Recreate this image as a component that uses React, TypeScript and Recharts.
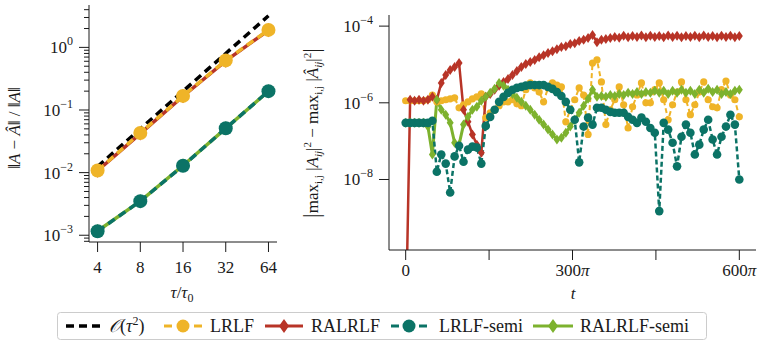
import React from 'react';
import { LineChart, Line, XAxis, YAxis } from 'recharts';

const SERIF = '"Liberation Serif", "Times New Roman", "DejaVu Serif", serif';
const INK = '#1a1a1a';

const YELLOW = '#EFB428';
const RED = '#B83427';
const TEAL = '#0B7366';
const GREEN = '#7DB22E';

// left panel: relative error against tau / tau0
const tauRatios = [4, 8, 16, 32, 64];
const orderRef = [0.0125, 0.05, 0.2, 0.8, 3.2];
const errLRLF = [0.0108, 0.043, 0.168, 0.62, 1.9];
const errRALRLF = [0.0107, 0.042, 0.166, 0.61, 1.88];
const errLRLFsemi = [0.00116, 0.0035, 0.0129, 0.051, 0.2];
const errRALRLFsemi = [0.00117, 0.0035, 0.013, 0.051, 0.2];

const leftMajor = [0.001, 0.01, 0.1, 1];
const leftMinorMult = [2, 3, 4, 5, 6, 7, 8, 9];

// right panel: time in units of pi
const tPi = [
  0, 8, 16, 24, 32, 40, 48, 56, 64, 72, 80, 88, 96, 104, 112, 120, 128, 136, 144, 152,
  160, 168, 176, 184, 192, 200, 208, 216, 224, 232, 240, 248, 256, 264, 272, 280, 288, 296, 304, 312,
  320, 328, 336, 344, 352, 360, 368, 376, 384, 392, 400, 408, 416, 424, 432, 440, 448, 456, 464, 472,
  480, 488, 496, 504, 512, 520, 528, 536, 544, 552, 560, 568, 576, 584, 592, 600,
];

const diffLRLF = [
  1.13e-6, 1.13e-6, 1.13e-6, 1.13e-6, 1.13e-6, 1.2e-6, 1.6e-6, 1.06e-6, 1.13e-6, 1.2e-6,
  1.27e-6, 1.35e-6, 7.4e-7, 8.9e-7, 1.06e-6, 1.27e-6, 1.43e-6, 1.7e-6, 4.1e-7, 5.5e-7,
  6.6e-7, 8.4e-7, 1.06e-6, 1.06e-6, 1.2e-6, 9.4e-7, 8.4e-7, 2.2e-6, 3.3e-6, 2.45e-6,
  1.9e-6, 1.06e-6, 2.45e-6, 3.3e-6, 2.9e-6, 2.6e-6, 3.2e-7, 6.6e-7, 1.2e-6, 2.45e-6,
  1.6e-6, 1.5e-7, 1.09e-5, 1.31e-5, 3.5e-6, 2.7e-7, 6.6e-7, 1.2e-6, 2.6e-6, 8.9e-7,
  2.2e-7, 7.9e-7, 1.6e-6, 3.3e-6, 1.0e-6, 1.0e-6, 2.2e-6, 3.3e-6, 1.2e-6, 3.6e-7,
  8.9e-7, 1.9e-6, 3.5e-6, 1.2e-6, 4.9e-7, 8.9e-7, 1.9e-6, 3.5e-6, 1.2e-6, 7.9e-7,
  7.4e-7, 2.2e-6, 3.7e-6, 1.6e-6, 1.2e-6, 4.3e-7,
];

const diffRALRLF = [
  1e-12, 1.2e-6, 1.13e-6, 1.2e-6, 1.13e-6, 1.2e-6, 1.43e-6, 1.2e-6, 3.3e-6, 5.3e-6,
  7.2e-6, 8.6e-6, 1.09e-5, 6.6e-7, 3.2e-7, 1.5e-7, 8.1e-8, 5.0e-8, 1.43e-6, 1.7e-6,
  2.2e-6, 2.8e-6, 3.5e-6, 4.2e-6, 5.3e-6, 6.8e-6, 8.6e-6, 1.03e-5, 1.16e-5, 1.31e-5,
  1.55e-5, 1.75e-5, 2.0e-5, 2.2e-5, 2.5e-5, 2.85e-5, 3.0e-5, 3.4e-5, 3.6e-5, 4.1e-5,
  4.4e-5, 4.9e-5, 5.9e-5, 3.8e-5, 4.4e-5, 4.6e-5, 4.9e-5, 5.2e-5, 5.0e-5, 5.6e-5,
  5.1e-5, 5.5e-5, 5.2e-5, 5.7e-5, 5.1e-5, 5.6e-5, 5.2e-5, 5.5e-5, 5.1e-5, 5.7e-5,
  5.2e-5, 5.6e-5, 5.1e-5, 5.5e-5, 5.2e-5, 5.6e-5, 5.1e-5, 5.7e-5, 5.2e-5, 5.5e-5,
  5.1e-5, 5.6e-5, 5.2e-5, 5.6e-5, 5.1e-5, 5.5e-5,
];

const diffLRLFsemi = [
  3.0e-7, 3.0e-7, 3.0e-7, 3.0e-7, 3.0e-7, 3.0e-7, 3.4e-7, 1.6e-8, 4.5e-8, 2.6e-8,
  4.6e-9, 4.0e-8, 7.6e-8, 2.9e-8, 6.0e-8, 7.2e-8, 6.8e-8, 2.6e-8, 2.5e-7, 4.3e-7,
  6.6e-7, 1.06e-6, 1.43e-6, 1.82e-6, 2.2e-6, 2.45e-6, 2.6e-6, 2.8e-6, 2.9e-6, 2.9e-6,
  2.9e-6, 2.9e-6, 2.6e-6, 2.31e-6, 1.9e-6, 1.5e-6, 1.06e-6, 6.6e-7, 3.6e-7, 2.8e-8,
  2.4e-7, 4.1e-7, 2.7e-7, 7.4e-7, 7.4e-7, 6.6e-7, 5.8e-7, 5.5e-7, 5.5e-7, 5.5e-7,
  4.3e-7, 3.6e-7, 3.0e-7, 4.1e-7, 3.2e-7, 2.2e-7, 1.66e-7, 1.5e-9, 3.0e-7, 2.0e-7,
  9.1e-8, 2.2e-8, 1.3e-7, 2.7e-7, 1.66e-7, 4.5e-8, 8.1e-8, 2.0e-7, 3.6e-7, 1.1e-7,
  4.5e-8, 1.3e-7, 2.4e-7, 4.9e-7, 2.7e-7, 1.0e-8,
];

const diffRALRLFsemi = [
  3.0e-7, 3.0e-7, 3.0e-7, 3.0e-7, 3.0e-7, 2.4e-7, 4.5e-8, 1.2e-6, 6.6e-7, 4.9e-7,
  3.0e-7, 9.1e-8, 8.1e-8, 2.7e-7, 4.3e-7, 6.6e-7, 7.9e-7, 1.13e-6, 1.43e-6, 1.82e-6,
  2.31e-6, 3.3e-6, 2.8e-6, 2.2e-6, 1.7e-6, 1.35e-6, 1.06e-6, 8.4e-7, 6.6e-7, 4.9e-7,
  3.6e-7, 2.7e-7, 2.0e-7, 1.5e-7, 1.1e-7, 1.23e-7, 1.66e-7, 2.4e-7, 3.6e-7, 5.5e-7,
  8.4e-7, 1.27e-6, 2.2e-6, 1.43e-6, 1.5e-6, 1.43e-6, 1.6e-6, 1.5e-6, 1.7e-6, 1.6e-6,
  1.82e-6, 1.7e-6, 1.9e-6, 1.7e-6, 1.9e-6, 1.82e-6, 2.05e-6, 1.82e-6, 2.05e-6, 1.7e-6,
  2.05e-6, 1.82e-6, 2.2e-6, 1.82e-6, 2.05e-6, 1.7e-6, 2.2e-6, 1.82e-6, 2.31e-6, 1.9e-6,
  2.2e-6, 1.7e-6, 1.9e-6, 1.7e-6, 2.05e-6, 2.2e-6,
];

const rightMajor = [1e-8, 1e-6, 1e-4];
const rightXTicks = [0, 150, 300, 450, 600];
const rightXLabels: Record<number, string> = { 0: '0', 300: '300π', 600: '600π' };

const leftData = tauRatios.map((tau, i) => ({
  tau,
  ref: orderRef[i],
  lrlf: errLRLF[i],
  ralrlf: errRALRLF[i],
  lrlfSemi: errLRLFsemi[i],
  ralrlfSemi: errRALRLFsemi[i],
}));

const rightData = tPi.map((t, i) => ({
  t,
  lrlf: diffLRLF[i],
  ralrlf: diffRALRLF[i],
  lrlfSemi: diffLRLFsemi[i],
  ralrlfSemi: diffRALRLFsemi[i],
}));

const leftTicks: number[] = [];
leftMajor.forEach((m) => {
  leftTicks.push(m);
  leftMinorMult.forEach((k) => {
    if (m * k < 4.75) leftTicks.push(m * k);
  });
});
leftTicks.push(0.0008, 0.0009);

const serifStyle = { fontFamily: SERIF };

function circleDot(color: string, r: number) {
  return (p: any) => {
    if (p.cx == null || p.cy == null || isNaN(p.cy)) return <g key={`c-${p.index}`} />;
    return <circle key={`c-${p.index}`} cx={p.cx} cy={p.cy} r={r} fill={color} />;
  };
}

function diamondDot(color: string, w: number, h: number) {
  return (p: any) => {
    if (p.cx == null || p.cy == null || isNaN(p.cy)) return <g key={`d-${p.index}`} />;
    const { cx, cy } = p;
    return (
      <path
        key={`d-${p.index}`}
        d={`M${cx},${cy - h}L${cx + w},${cy}L${cx},${cy + h}L${cx - w},${cy}Z`}
        fill={color}
      />
    );
  };
}

function LogYTick(props: any) {
  const { x, y, payload, majors } = props;
  const v = payload.value;
  const major = majors.some((m: number) => Math.abs(m - v) / m < 1e-6);
  const exp = Math.round(Math.log10(v));
  return (
    <g>
      <line x1={x - (major ? 10 : 5)} x2={x} y1={y} y2={y} stroke={INK} strokeWidth={1} />
      {major && (
        <text x={x - 16} y={y + 6} textAnchor="end" style={serifStyle} fontSize={17} fill={INK}>
          10
          <tspan dy={-8} fontSize={12}>
            {exp === 0 ? '0' : '−' + Math.abs(exp)}
          </tspan>
        </text>
      )}
    </g>
  );
}

function BottomTick(props: any) {
  const { x, y, payload, labels, offset } = props;
  const label: string | undefined = labels ? labels[payload.value] : String(payload.value);
  const hasPi = label && label.endsWith('π');
  return (
    <g>
      <line x1={x} x2={x} y1={y} y2={y + 10} stroke={INK} strokeWidth={1} />
      {label && (
        <text x={x} y={y + offset} textAnchor="middle" style={serifStyle} fontSize={17} fill={INK}>
          {hasPi ? label.slice(0, -1) : label}
          {hasPi && <tspan fontStyle="italic">π</tspan>}
        </text>
      )}
    </g>
  );
}

function LeftPanel() {
  return (
    <LineChart width={290} height={300} data={leftData} margin={{ top: 5, right: 13, left: 0, bottom: 0 }}>
      <XAxis
        dataKey="tau"
        type="number"
        scale="log"
        domain={[3.48, 73.5]}
        ticks={tauRatios}
        interval={0}
        height={58}
        tickSize={0}
        tickMargin={0}
        tickLine={false}
        axisLine={{ stroke: INK }}
        tick={<BottomTick offset={31} />}
      />
      <YAxis
        type="number"
        scale="log"
        domain={[7.8e-4, 4.75]}
        ticks={leftTicks}
        interval={0}
        width={89}
        tickSize={0}
        tickMargin={0}
        tickLine={false}
        axisLine={{ stroke: INK }}
        tick={<LogYTick majors={leftMajor} />}
      />
      <XAxis xAxisId="top" orientation="top" dataKey="tau" type="number" domain={[3.48, 73.5]} scale="log" height={0} tick={false} tickLine={false} axisLine={{ stroke: INK }} />
      <YAxis yAxisId="right" orientation="right" type="number" domain={[7.8e-4, 4.75]} scale="log" width={0} tick={false} tickLine={false} axisLine={{ stroke: INK }} />
      <Line dataKey="ref" stroke="#000" strokeWidth={3.5} strokeDasharray="8 5" dot={false} activeDot={false} isAnimationActive={false} />
      <Line dataKey="ralrlf" stroke={RED} strokeWidth={3.5} dot={diamondDot(RED, 5, 7)} activeDot={false} isAnimationActive={false} />
      <Line dataKey="lrlf" stroke={YELLOW} strokeWidth={3.5} strokeDasharray="8 5" dot={circleDot(YELLOW, 7)} activeDot={false} isAnimationActive={false} />
      <Line dataKey="ralrlfSemi" stroke={GREEN} strokeWidth={3.5} dot={diamondDot(GREEN, 5, 7)} activeDot={false} isAnimationActive={false} />
      <Line dataKey="lrlfSemi" stroke={TEAL} strokeWidth={3.5} strokeDasharray="8 5" dot={circleDot(TEAL, 7)} activeDot={false} isAnimationActive={false} />
    </LineChart>
  );
}

function RightPanel() {
  const yDomain = [1.45e-10, 1.95e-4];
  return (
    <LineChart width={460} height={300} data={rightData} margin={{ top: 15, right: 4, left: 0, bottom: 0 }}>
      <XAxis
        dataKey="t"
        type="number"
        domain={[-30, 630]}
        ticks={rightXTicks}
        interval={0}
        height={50}
        tickSize={0}
        tickMargin={0}
        tickLine={false}
        axisLine={{ stroke: INK }}
        tick={<BottomTick labels={rightXLabels} offset={26} />}
      />
      <YAxis
        type="number"
        scale="log"
        domain={yDomain}
        allowDataOverflow
        ticks={rightMajor}
        interval={0}
        width={89}
        tickSize={0}
        tickMargin={0}
        tickLine={false}
        axisLine={{ stroke: INK }}
        tick={<LogYTick majors={rightMajor} />}
      />
      <XAxis xAxisId="top" orientation="top" dataKey="t" type="number" domain={[-30, 630]} height={0} tick={false} tickLine={false} axisLine={{ stroke: INK }} />
      <YAxis yAxisId="right" orientation="right" type="number" domain={yDomain} scale="log" width={0} tick={false} tickLine={false} axisLine={{ stroke: INK }} />
      <Line dataKey="lrlf" stroke={YELLOW} strokeWidth={2} strokeDasharray="5 3" dot={circleDot(YELLOW, 3.6)} activeDot={false} isAnimationActive={false} />
      <Line dataKey="ralrlf" stroke={RED} strokeWidth={2.5} dot={diamondDot(RED, 3.5, 5)} activeDot={false} isAnimationActive={false} />
      <Line dataKey="ralrlfSemi" stroke={GREEN} strokeWidth={3} dot={diamondDot(GREEN, 3.5, 5)} activeDot={false} isAnimationActive={false} />
      <Line dataKey="lrlfSemi" stroke={TEAL} strokeWidth={2.5} strokeDasharray="5 3" dot={circleDot(TEAL, 4.3)} activeDot={false} isAnimationActive={false} />
    </LineChart>
  );
}

function Overlay() {
  const sub = { fontSize: 11 };
  return (
    <svg width={760} height={349} style={{ position: 'absolute', left: 0, top: 0, pointerEvents: 'none', fontFamily: SERIF }}>
      {/* left y label */}
      <text transform="translate(20,128) rotate(-90)" textAnchor="middle" style={serifStyle} fontSize={17} fill={INK}>
        ‖<tspan fontStyle="italic">A</tspan> − <tspan fontStyle="italic">Â</tspan>‖ / ‖<tspan fontStyle="italic">A</tspan>‖
      </text>
      {/* right y label */}
      <text transform="translate(318,133) rotate(-90)" textAnchor="middle" style={serifStyle} fontSize={17} fill={INK}>
        <tspan fontSize={23} dy={1}>|</tspan>
        <tspan dy={-1}>max</tspan>
        <tspan dy={4} {...sub}>i,j</tspan>
        <tspan dy={-4}> |</tspan>
        <tspan fontStyle="italic">A</tspan>
        <tspan dy={4} {...sub} fontStyle="italic">ij</tspan>
        <tspan dy={-4}>|</tspan>
        <tspan dy={-7} {...sub}>2</tspan>
        <tspan dy={7}> − max</tspan>
        <tspan dy={4} {...sub}>i,j</tspan>
        <tspan dy={-4}> |</tspan>
        <tspan fontStyle="italic">Â</tspan>
        <tspan dy={4} {...sub} fontStyle="italic">ij</tspan>
        <tspan dy={-4}>|</tspan>
        <tspan dy={-7} {...sub}>2</tspan>
        <tspan dy={8} fontSize={23}>|</tspan>
      </text>
      {/* x labels */}
      <text x={182} y={298} textAnchor="middle" style={serifStyle} fontSize={17} fill={INK}>
        <tspan fontStyle="italic">τ</tspan>/<tspan fontStyle="italic">τ</tspan>
        <tspan dy={4} fontSize={12}>0</tspan>
      </text>
      <text x={573} y={299} textAnchor="middle" style={serifStyle} fontSize={17} fontStyle="italic" fill={INK}>
        t
      </text>
      {/* legend */}
      <rect x={57.5} y={312.5} width={649} height={27} rx={3} fill="#fff" stroke="#cccccc" />
      <line x1={66} x2={100} y1={326} y2={326} stroke="#000" strokeWidth={3.5} strokeDasharray="8 5" />
      <text x={109} y={332} style={serifStyle} fontSize={18} fill={INK}>
        <tspan style={{ fontFamily: '"DejaVu Sans", "Noto Sans", serif' }} fontStyle="italic">𝒪</tspan>(<tspan fontStyle="italic">τ</tspan>
        <tspan dy={-7} fontSize={12}>2</tspan>
        <tspan dy={7}>)</tspan>
      </text>
      <line x1={164} x2={172} y1={326} y2={326} stroke={YELLOW} strokeWidth={3} />
      <line x1={194} x2={202} y1={326} y2={326} stroke={YELLOW} strokeWidth={3} />
      <circle cx={183} cy={326} r={6.5} fill={YELLOW} />
      <text x={210} y={332} style={serifStyle} fontSize={18} fill={INK}>LRLF</text>
      <line x1={265} x2={303} y1={326} y2={326} stroke={RED} strokeWidth={3} />
      <path d="M284,319L289,326L284,333L279,326Z" fill={RED} />
      <text x={311} y={332} style={serifStyle} fontSize={18} fill={INK}>RALRLF</text>
      <line x1={391} x2={399} y1={326} y2={326} stroke={TEAL} strokeWidth={3} />
      <line x1={419} x2={427} y1={326} y2={326} stroke={TEAL} strokeWidth={3} />
      <circle cx={409} cy={326} r={6.5} fill={TEAL} />
      <text x={439} y={332} style={serifStyle} fontSize={18} fill={INK}>LRLF-semi</text>
      <line x1={533} x2={573} y1={326} y2={326} stroke={GREEN} strokeWidth={3} />
      <path d="M553,319L558,326L553,333L548,326Z" fill={GREEN} />
      <text x={580} y={332} style={serifStyle} fontSize={18} fill={INK}>RALRLF-semi</text>
    </svg>
  );
}

export default function App() {
  return (
    <div style={{ position: 'absolute', left: 0, top: 0, width: 760, height: 349, background: '#fff', overflow: 'hidden' }}>
      <div style={{ position: 'absolute', left: 0, top: 0 }}>
        <LeftPanel />
      </div>
      <div style={{ position: 'absolute', left: 300, top: 0 }}>
        <RightPanel />
      </div>
      <Overlay />
    </div>
  );
}
